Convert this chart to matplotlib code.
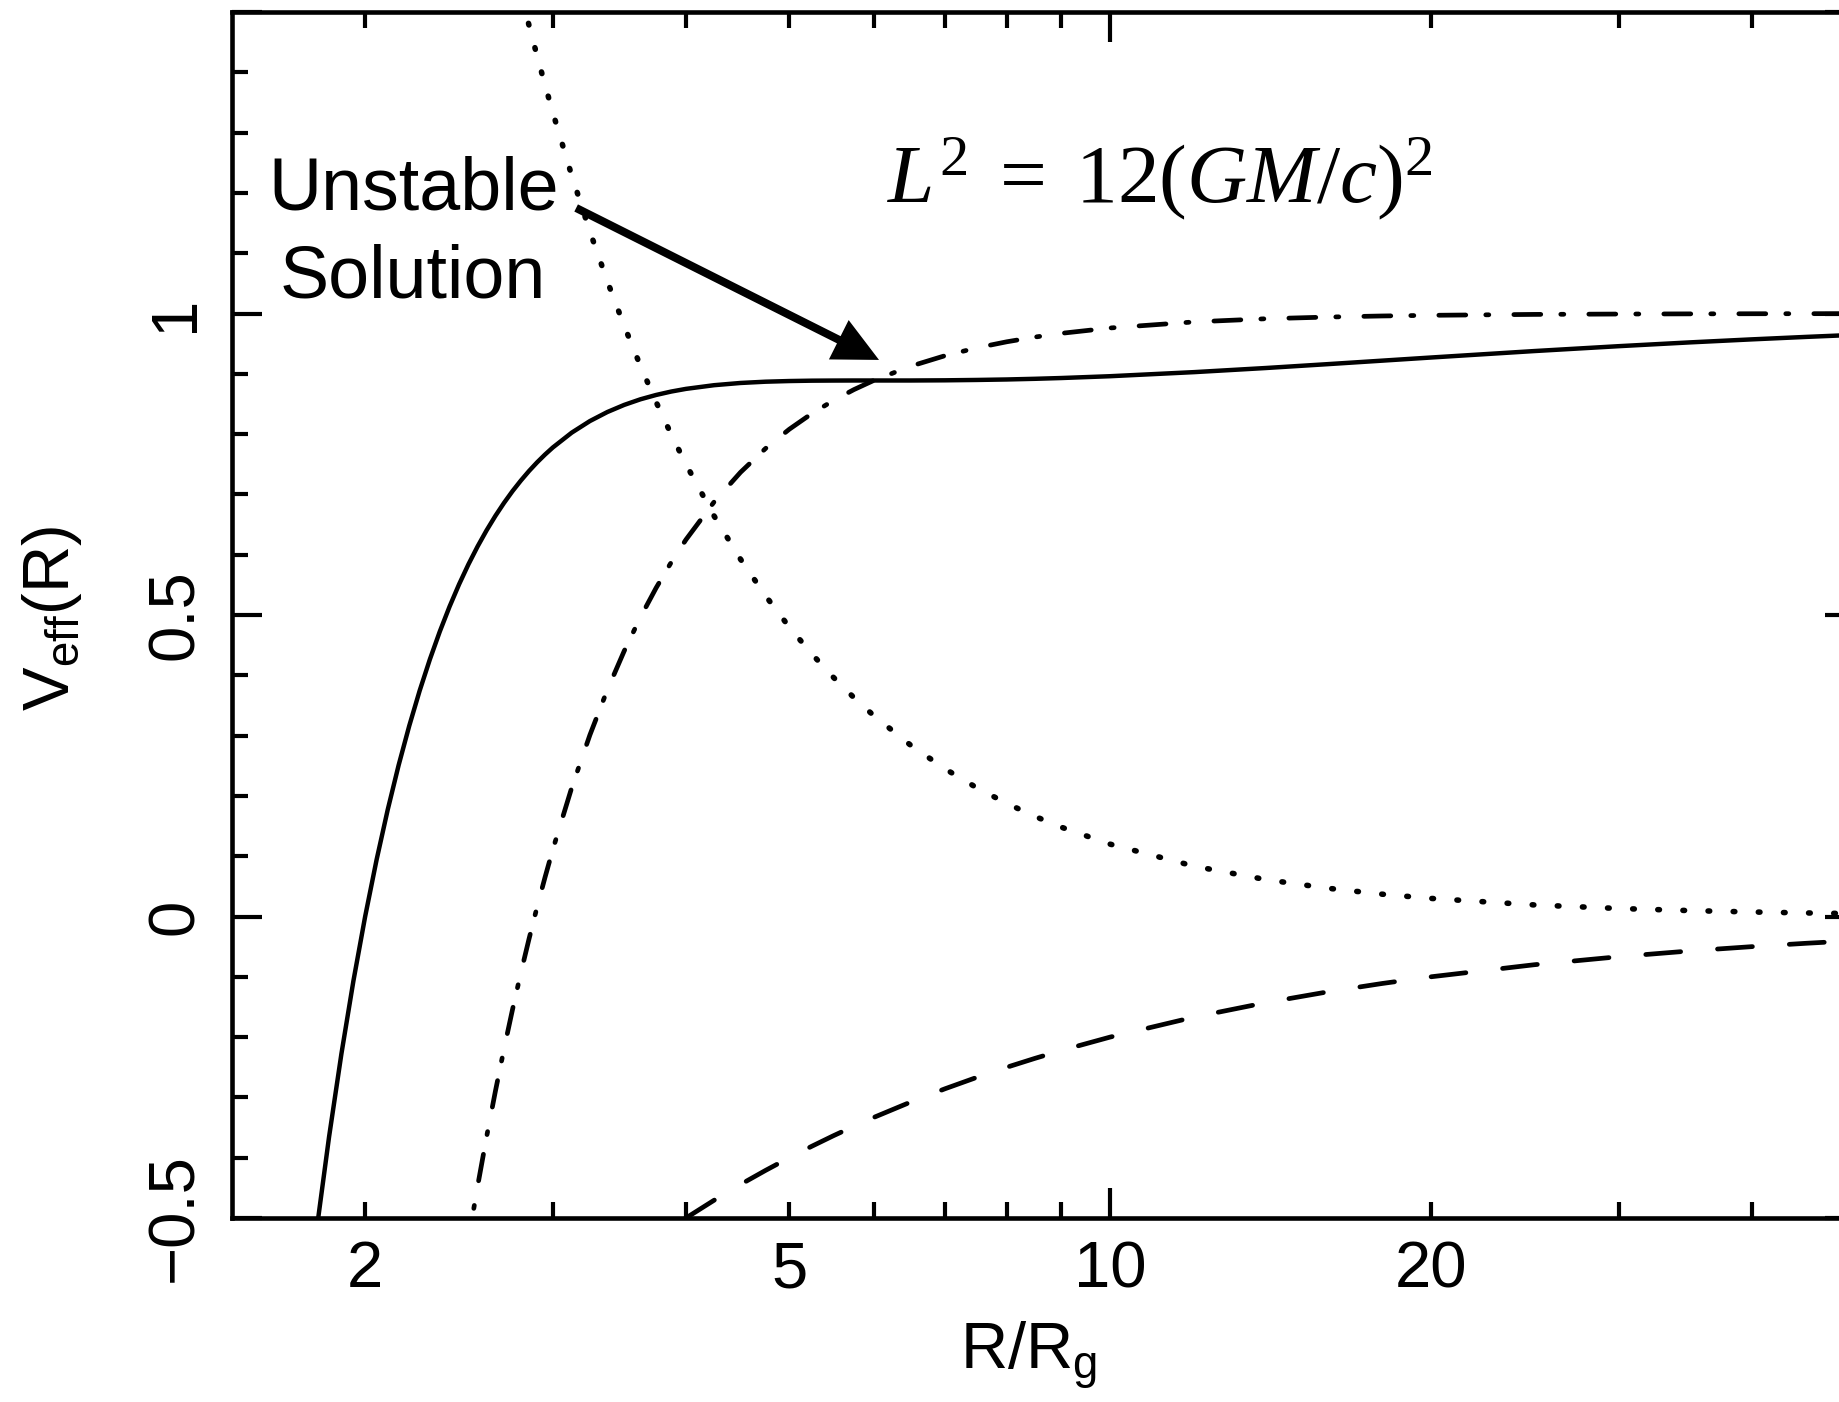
import matplotlib
matplotlib.use("Agg")
import matplotlib.pyplot as plt
from matplotlib.ticker import FixedLocator, FixedFormatter

plt.rcParams.update({
    "font.family": ["Liberation Sans", "DejaVu Sans"],
    "mathtext.fontset": "custom",
    "mathtext.rm": "Liberation Serif",
    "mathtext.it": "Liberation Serif:italic",
    "mathtext.bf": "Liberation Serif:bold",
    "mathtext.sf": "Liberation Sans",
    "lines.scale_dashes": False,
})

# Radius in units of R_g and the terms of the effective potential for L^2 = 12 (GM/c)^2
radius = [1.5, 1.6, 1.7, 1.8, 1.85, 1.9, 1.95, 2.0, 2.05, 2.1, 2.15, 2.2, 2.25, 2.3,
          2.35, 2.4, 2.45, 2.5, 2.55, 2.6, 2.65, 2.7, 2.75, 2.8, 2.85, 2.9, 2.95, 3.0,
          3.125, 3.25, 3.375, 3.5, 3.625, 3.75, 3.875, 4.0, 4.25, 4.5, 4.75, 5.0,
          5.25, 5.5, 5.75, 6.0, 6.5, 7.0, 7.5, 8.0, 8.5, 9.0, 10.0, 12.0, 14.0, 16.0,
          18.0, 20.0, 25.0, 30.0, 35.0, 40.0, 45.0, 50.0]

# Newtonian term (dashed)
newtonian = [-1.3333, -1.25, -1.1765, -1.1111, -1.0811, -1.0526, -1.0256, -1.0,
             -0.9756, -0.9524, -0.9302, -0.9091, -0.8889, -0.8696, -0.8511, -0.8333,
             -0.8163, -0.8, -0.7843, -0.7692, -0.7547, -0.7407, -0.7273, -0.7143,
             -0.7018, -0.6897, -0.678, -0.6667, -0.64, -0.6154, -0.5926, -0.5714,
             -0.5517, -0.5333, -0.5161, -0.5, -0.4706, -0.4444, -0.4211, -0.4,
             -0.381, -0.3636, -0.3478, -0.3333, -0.3077, -0.2857, -0.2667, -0.25,
             -0.2353, -0.2222, -0.2, -0.1667, -0.1429, -0.125, -0.1111, -0.1, -0.08,
             -0.0667, -0.0571, -0.05, -0.0444, -0.04]

# Centrifugal barrier (dotted)
centrifugal = [5.3333, 4.6875, 4.1522, 3.7037, 3.5062, 3.3241, 3.1558, 3.0, 2.8554,
               2.7211, 2.596, 2.4793, 2.3704, 2.2684, 2.1729, 2.0833, 1.9992, 1.92,
               1.8454, 1.7751, 1.7088, 1.6461, 1.5868, 1.5306, 1.4774, 1.4269, 1.3789,
               1.3333, 1.2288, 1.1361, 1.0535, 0.9796, 0.9132, 0.8533, 0.7992, 0.75,
               0.6644, 0.5926, 0.5319, 0.48, 0.4354, 0.3967, 0.3629, 0.3333, 0.284,
               0.2449, 0.2133, 0.1875, 0.1661, 0.1481, 0.12, 0.0833, 0.0612, 0.0469,
               0.037, 0.03, 0.0192, 0.0133, 0.0098, 0.0075, 0.0059, 0.0048]

# Relativistic term (dash-dot)
relativistic = [-6.1111, -4.8594, -3.885, -3.1152, -2.7905, -2.4991, -2.2367, -2.0,
                -1.7858, -1.5915, -1.4149, -1.2539, -1.107, -0.9726, -0.8493, -0.7361,
                -0.632, -0.536, -0.4474, -0.3655, -0.2897, -0.2193, -0.154, -0.0933,
                -0.0368, 0.016, 0.0651, 0.1111, 0.2136, 0.3009, 0.3757, 0.4402, 0.4962,
                0.5449, 0.5875, 0.625, 0.6874, 0.7366, 0.7761, 0.808, 0.8341, 0.8557,
                0.8738, 0.8889, 0.9126, 0.93, 0.9431, 0.9531, 0.9609, 0.9671, 0.976,
                0.9861, 0.9913, 0.9941, 0.9959, 0.997, 0.9985, 0.9991, 0.9994, 0.9996,
                0.9997, 0.9998]

# Total effective potential (solid)
v_eff = [-2.1111, -1.4219, -0.9093, -0.5226, -0.3654, -0.2277, -0.1066, 0.0, 0.094,
         0.1772, 0.2509, 0.3163, 0.3745, 0.4263, 0.4726, 0.5139, 0.5509, 0.584,
         0.6137, 0.6404, 0.6644, 0.686, 0.7055, 0.723, 0.7389, 0.7532, 0.7661,
         0.7778, 0.8024, 0.8216, 0.8366, 0.8484, 0.8577, 0.8649, 0.8706, 0.875,
         0.8811, 0.8848, 0.8869, 0.888, 0.8886, 0.8888, 0.8889, 0.8889, 0.8889,
         0.8892, 0.8898, 0.8906, 0.8917, 0.893, 0.896, 0.9028, 0.9096, 0.916, 0.9218,
         0.927, 0.9377, 0.9458, 0.9521, 0.9571, 0.9612, 0.9646]

x_major = [10]
x_minor = [2, 3, 4, 5, 6, 7, 8, 9, 20, 30, 40]
x_minor_labels = ["2", "", "", "5", "", "", "", "", "20", "", ""]
y_major = [-0.5, 0.0, 0.5, 1.0, 1.5]
y_major_labels = ["\u22120.5", "0", "0.5", "1", ""]
y_minor = [-0.4, -0.3, -0.2, -0.1, 0.1, 0.2, 0.3, 0.4, 0.6, 0.7, 0.8, 0.9,
           1.1, 1.2, 1.3, 1.4]

W, H = 1840, 1402
fig = plt.figure(figsize=(W / 100, H / 100), dpi=100)
fig.patch.set_facecolor("white")
ax = fig.add_axes([232 / W, 1 - 1218 / H, (1855 - 232) / W, (1218 - 12) / H])

lw = 3.4
ax.plot(radius, v_eff, color="black", lw=3.2, solid_capstyle="butt",
        solid_joinstyle="round")
ax.plot(radius, relativistic, color="black", lw=lw,
        dashes=(19.4, 14.4, 2.2, 18.0), dash_capstyle="round")
ax.plot(radius, centrifugal, color="black", lw=4.0,
        dashes=(1.2, 16.9), dash_capstyle="round")
ax.plot(radius, newtonian, color="black", lw=lw,
        dashes=(25.2, 26.6), dash_capstyle="round")

ax.set_xscale("log")
ax.set_xlim(1.5, 50)
ax.set_ylim(-0.5, 1.5)

ax.xaxis.set_major_locator(FixedLocator(x_major))
ax.xaxis.set_major_formatter(FixedFormatter(["10"]))
ax.xaxis.set_minor_locator(FixedLocator(x_minor))
ax.xaxis.set_minor_formatter(FixedFormatter(x_minor_labels))
ax.yaxis.set_major_locator(FixedLocator(y_major))
ax.yaxis.set_major_formatter(FixedFormatter(y_major_labels))
ax.yaxis.set_minor_locator(FixedLocator(y_minor))

for s in ax.spines.values():
    s.set_linewidth(3.3)

ax.tick_params(which="both", direction="in", top=True, right=True,
               width=3.0, labelsize=47, colors="black")
ax.tick_params(which="major", length=21.6)
ax.tick_params(which="minor", length=11.5)
ax.tick_params(axis="x", which="both", pad=16)
ax.tick_params(axis="y", which="both", pad=19, labelrotation=90)
for lab in ax.get_yticklabels():
    lab.set_verticalalignment("center")

# Axis labels
fig.text(52 / W, 1 - 618 / H, r"$\mathsf{V_{eff}(R)}$", rotation=90,
         ha="center", va="center", fontsize=47)
fig.text(1029 / W, 1 - 1370 / H, r"$\mathsf{R/R_g}$", ha="center",
         va="baseline", fontsize=47)

# Angular momentum label
fig.text(1160 / W, 1 - 202 / H, r"$L^2\;=\;12(GM/c)^2$", ha="center",
         va="baseline", fontsize=60)

# Annotation of the marginally stable point
ax.text(2.219, 1.173, "Unstable", ha="center", va="baseline", fontsize=53)
ax.text(2.219, 1.026, "Solution", ha="center", va="baseline", fontsize=53)
ax.annotate("", xy=(6.07, 0.923), xytext=(3.155, 1.175),
            arrowprops=dict(arrowstyle="simple,head_length=3.24,head_width=3.17,tail_width=0.58",
                            mutation_scale=10, fc="black", ec="none", lw=0,
                            shrinkA=0, shrinkB=0))

fig.savefig("out.png", dpi=100, facecolor="white")
